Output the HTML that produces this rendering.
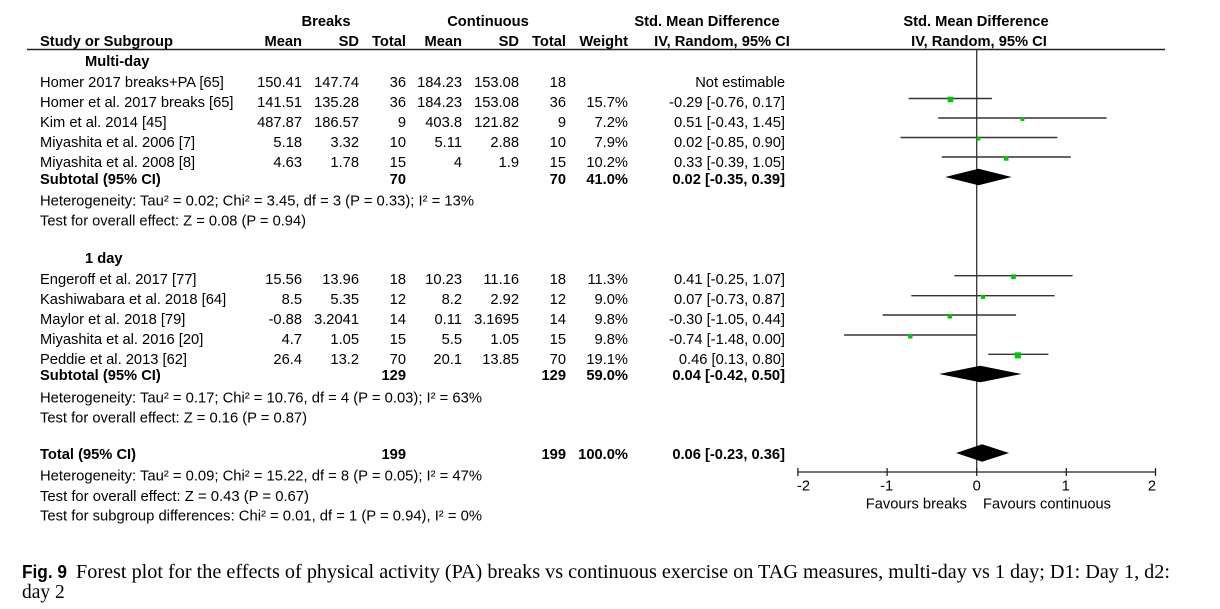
<!DOCTYPE html>
<html><head><meta charset="utf-8"><style>
html,body{margin:0;padding:0;background:#fff;}
svg{display:block;}
text{font-family:"Liberation Sans",Arial,sans-serif;font-size:14.7px;fill:#000;}
.b{font-weight:bold;}
.e{text-anchor:end;}
.m{text-anchor:middle;}
.cap{font-family:"Liberation Serif","Times New Roman",serif;font-size:19.5px;}
</style></head><body>
<svg width="1220" height="609" viewBox="0 0 1220 609" xmlns="http://www.w3.org/2000/svg">
<!-- headers -->
<text class="b m" x="326" y="26">Breaks</text>
<text class="b m" x="488" y="26">Continuous</text>
<text class="b m" x="707" y="26">Std. Mean Difference</text>
<text class="b m" x="976" y="26">Std. Mean Difference</text>
<text class="b" x="40" y="46">Study or Subgroup</text>
<text class="b e" x="302" y="46">Mean</text>
<text class="b e" x="359" y="46">SD</text>
<text class="b e" x="406" y="46">Total</text>
<text class="b e" x="462" y="46">Mean</text>
<text class="b e" x="519" y="46">SD</text>
<text class="b e" x="566" y="46">Total</text>
<text class="b e" x="628" y="46">Weight</text>
<text class="b m" x="722" y="46">IV, Random, 95% CI</text>
<text class="b m" x="979" y="46">IV, Random, 95% CI</text>
<line x1="27" y1="49.5" x2="1165" y2="49.5" stroke="#222" stroke-width="1.6"/>

<!-- Multi-day -->
<text class="b" x="85" y="66">Multi-day</text>
<g>
<text x="40" y="87">Homer 2017 breaks+PA [65]</text>
<text class="e" x="302" y="87">150.41</text><text class="e" x="359" y="87">147.74</text><text class="e" x="406" y="87">36</text>
<text class="e" x="462" y="87">184.23</text><text class="e" x="519" y="87">153.08</text><text class="e" x="566" y="87">18</text>
<text class="e" x="785" y="87">Not estimable</text>

<text x="40" y="107">Homer et al. 2017 breaks [65]</text>
<text class="e" x="302" y="107">141.51</text><text class="e" x="359" y="107">135.28</text><text class="e" x="406" y="107">36</text>
<text class="e" x="462" y="107">184.23</text><text class="e" x="519" y="107">153.08</text><text class="e" x="566" y="107">36</text>
<text class="e" x="628" y="107">15.7%</text><text class="e" x="785" y="107">-0.29 [-0.76, 0.17]</text>

<text x="40" y="127">Kim et al. 2014 [45]</text>
<text class="e" x="302" y="127">487.87</text><text class="e" x="359" y="127">186.57</text><text class="e" x="406" y="127">9</text>
<text class="e" x="462" y="127">403.8</text><text class="e" x="519" y="127">121.82</text><text class="e" x="566" y="127">9</text>
<text class="e" x="628" y="127">7.2%</text><text class="e" x="785" y="127">0.51 [-0.43, 1.45]</text>

<text x="40" y="147">Miyashita et al. 2006 [7]</text>
<text class="e" x="302" y="147">5.18</text><text class="e" x="359" y="147">3.32</text><text class="e" x="406" y="147">10</text>
<text class="e" x="462" y="147">5.11</text><text class="e" x="519" y="147">2.88</text><text class="e" x="566" y="147">10</text>
<text class="e" x="628" y="147">7.9%</text><text class="e" x="785" y="147">0.02 [-0.85, 0.90]</text>

<text x="40" y="167">Miyashita et al. 2008 [8]</text>
<text class="e" x="302" y="167">4.63</text><text class="e" x="359" y="167">1.78</text><text class="e" x="406" y="167">15</text>
<text class="e" x="462" y="167">4</text><text class="e" x="519" y="167">1.9</text><text class="e" x="566" y="167">15</text>
<text class="e" x="628" y="167">10.2%</text><text class="e" x="785" y="167">0.33 [-0.39, 1.05]</text>

<text class="b" x="40" y="184">Subtotal (95% CI)</text>
<text class="b e" x="406" y="184">70</text><text class="b e" x="566" y="184">70</text>
<text class="b e" x="628" y="184">41.0%</text><text class="b e" x="785" y="184">0.02 [-0.35, 0.39]</text>
<text x="40" y="205.5" textLength="434" lengthAdjust="spacingAndGlyphs">Heterogeneity: Tau² = 0.02; Chi² = 3.45, df = 3 (P = 0.33); I² = 13%</text>
<text x="40" y="225.5" textLength="266" lengthAdjust="spacingAndGlyphs">Test for overall effect: Z = 0.08 (P = 0.94)</text>
</g>

<!-- 1 day -->
<text class="b" x="85" y="263">1 day</text>
<g>
<text x="40" y="284">Engeroff et al. 2017 [77]</text>
<text class="e" x="302" y="284">15.56</text><text class="e" x="359" y="284">13.96</text><text class="e" x="406" y="284">18</text>
<text class="e" x="462" y="284">10.23</text><text class="e" x="519" y="284">11.16</text><text class="e" x="566" y="284">18</text>
<text class="e" x="628" y="284">11.3%</text><text class="e" x="785" y="284">0.41 [-0.25, 1.07]</text>

<text x="40" y="304">Kashiwabara et al. 2018 [64]</text>
<text class="e" x="302" y="304">8.5</text><text class="e" x="359" y="304">5.35</text><text class="e" x="406" y="304">12</text>
<text class="e" x="462" y="304">8.2</text><text class="e" x="519" y="304">2.92</text><text class="e" x="566" y="304">12</text>
<text class="e" x="628" y="304">9.0%</text><text class="e" x="785" y="304">0.07 [-0.73, 0.87]</text>

<text x="40" y="324">Maylor et al. 2018 [79]</text>
<text class="e" x="302" y="324">-0.88</text><text class="e" x="359" y="324">3.2041</text><text class="e" x="406" y="324">14</text>
<text class="e" x="462" y="324">0.11</text><text class="e" x="519" y="324">3.1695</text><text class="e" x="566" y="324">14</text>
<text class="e" x="628" y="324">9.8%</text><text class="e" x="785" y="324">-0.30 [-1.05, 0.44]</text>

<text x="40" y="344">Miyashita et al. 2016 [20]</text>
<text class="e" x="302" y="344">4.7</text><text class="e" x="359" y="344">1.05</text><text class="e" x="406" y="344">15</text>
<text class="e" x="462" y="344">5.5</text><text class="e" x="519" y="344">1.05</text><text class="e" x="566" y="344">15</text>
<text class="e" x="628" y="344">9.8%</text><text class="e" x="785" y="344">-0.74 [-1.48, 0.00]</text>

<text x="40" y="364">Peddie et al. 2013 [62]</text>
<text class="e" x="302" y="364">26.4</text><text class="e" x="359" y="364">13.2</text><text class="e" x="406" y="364">70</text>
<text class="e" x="462" y="364">20.1</text><text class="e" x="519" y="364">13.85</text><text class="e" x="566" y="364">70</text>
<text class="e" x="628" y="364">19.1%</text><text class="e" x="785" y="364">0.46 [0.13, 0.80]</text>

<text class="b" x="40" y="380">Subtotal (95% CI)</text>
<text class="b e" x="406" y="380">129</text><text class="b e" x="566" y="380">129</text>
<text class="b e" x="628" y="380">59.0%</text><text class="b e" x="785" y="380">0.04 [-0.42, 0.50]</text>
<text x="40" y="402.5" textLength="442" lengthAdjust="spacingAndGlyphs">Heterogeneity: Tau² = 0.17; Chi² = 10.76, df = 4 (P = 0.03); I² = 63%</text>
<text x="40" y="422.5" textLength="267" lengthAdjust="spacingAndGlyphs">Test for overall effect: Z = 0.16 (P = 0.87)</text>
</g>

<!-- Total -->
<text class="b" x="40" y="459">Total (95% CI)</text>
<text class="b e" x="406" y="459">199</text><text class="b e" x="566" y="459">199</text>
<text class="b e" x="628" y="459">100.0%</text><text class="b e" x="785" y="459">0.06 [-0.23, 0.36]</text>
<text x="40" y="480.5" textLength="442" lengthAdjust="spacingAndGlyphs">Heterogeneity: Tau² = 0.09; Chi² = 15.22, df = 8 (P = 0.05); I² = 47%</text>
<text x="40" y="501" textLength="269" lengthAdjust="spacingAndGlyphs">Test for overall effect: Z = 0.43 (P = 0.67)</text>
<text x="40" y="520.5" textLength="442" lengthAdjust="spacingAndGlyphs">Test for subgroup differences: Chi² = 0.01, df = 1 (P = 0.94), I² = 0%</text>

<!-- plot: zero at 976.7, 89.6 px/unit -->
<line x1="976.7" y1="49.5" x2="976.7" y2="472" stroke="#333" stroke-width="1.3"/>
<g stroke="#333" stroke-width="1.4">
<line x1="908.6" y1="98.5" x2="991.9" y2="98.5"/>
<line x1="938.2" y1="118" x2="1106.6" y2="118"/>
<line x1="900.5" y1="137.5" x2="1057.3" y2="137.5"/>
<line x1="941.8" y1="157" x2="1070.8" y2="157"/>
<line x1="954.3" y1="275.7" x2="1072.6" y2="275.7"/>
<line x1="911.3" y1="295.7" x2="1054.6" y2="295.7"/>
<line x1="882.6" y1="315" x2="1016.1" y2="315"/>
<line x1="844.1" y1="335" x2="976.7" y2="335"/>
<line x1="988.3" y1="354.3" x2="1048.4" y2="354.3"/>
</g>
<g fill="#00c800">
<rect x="947.7" y="96.7" width="5.5" height="5.5"/>
<rect x="1020.5" y="117.2" width="3.8" height="3.8"/>
<rect x="976.5" y="136.6" width="3.9" height="3.9"/>
<rect x="1004.0" y="156.2" width="4.5" height="4.5"/>
<rect x="1011.1" y="274.4" width="4.7" height="4.7"/>
<rect x="980.9" y="294.8" width="4.2" height="4.2"/>
<rect x="947.6" y="314.1" width="4.4" height="4.4"/>
<rect x="908.1" y="334.1" width="4.4" height="4.4"/>
<rect x="1014.8" y="352.3" width="6.1" height="6.1"/>
</g>
<g fill="#000">
<polygon points="945.3,177 978.5,168.7 1011.6,177 978.5,185.3"/>
<polygon points="939.1,374 980.3,365.7 1021.5,374 980.3,382.3"/>
<polygon points="956.1,453 982.1,444.2 1009.0,453 982.1,461.8"/>
</g>
<!-- axis -->
<g stroke="#222" stroke-width="1.3">
<line x1="797.5" y1="472" x2="1155.9" y2="472"/>
<line x1="797.9" y1="468" x2="797.9" y2="476"/>
<line x1="887.1" y1="468" x2="887.1" y2="476"/>
<line x1="976.7" y1="468" x2="976.7" y2="476"/>
<line x1="1066.3" y1="468" x2="1066.3" y2="476"/>
<line x1="1155.5" y1="468" x2="1155.5" y2="476"/>
</g>
<text x="797" y="490.7">-2</text>
<text class="m" x="886.7" y="490.7">-1</text>
<text class="m" x="976.7" y="490.7">0</text>
<text class="m" x="1065.7" y="490.7">1</text>
<text class="e" x="1156" y="490.7">2</text>
<text class="e" x="967" y="508.3">Favours breaks</text>
<text x="983" y="508.3" textLength="128" lengthAdjust="spacingAndGlyphs">Favours continuous</text>

<!-- caption -->
<text x="22" y="578" style="font-weight:bold;font-size:18px" textLength="45" lengthAdjust="spacingAndGlyphs">Fig. 9</text>
<text class="cap" x="76" y="578" textLength="1094" lengthAdjust="spacingAndGlyphs">Forest plot for the effects of physical activity (PA) breaks vs continuous exercise on TAG measures, multi-day vs 1 day; D1: Day 1, d2:</text>
<text class="cap" x="22" y="598">day 2</text>
</svg>
</body></html>
